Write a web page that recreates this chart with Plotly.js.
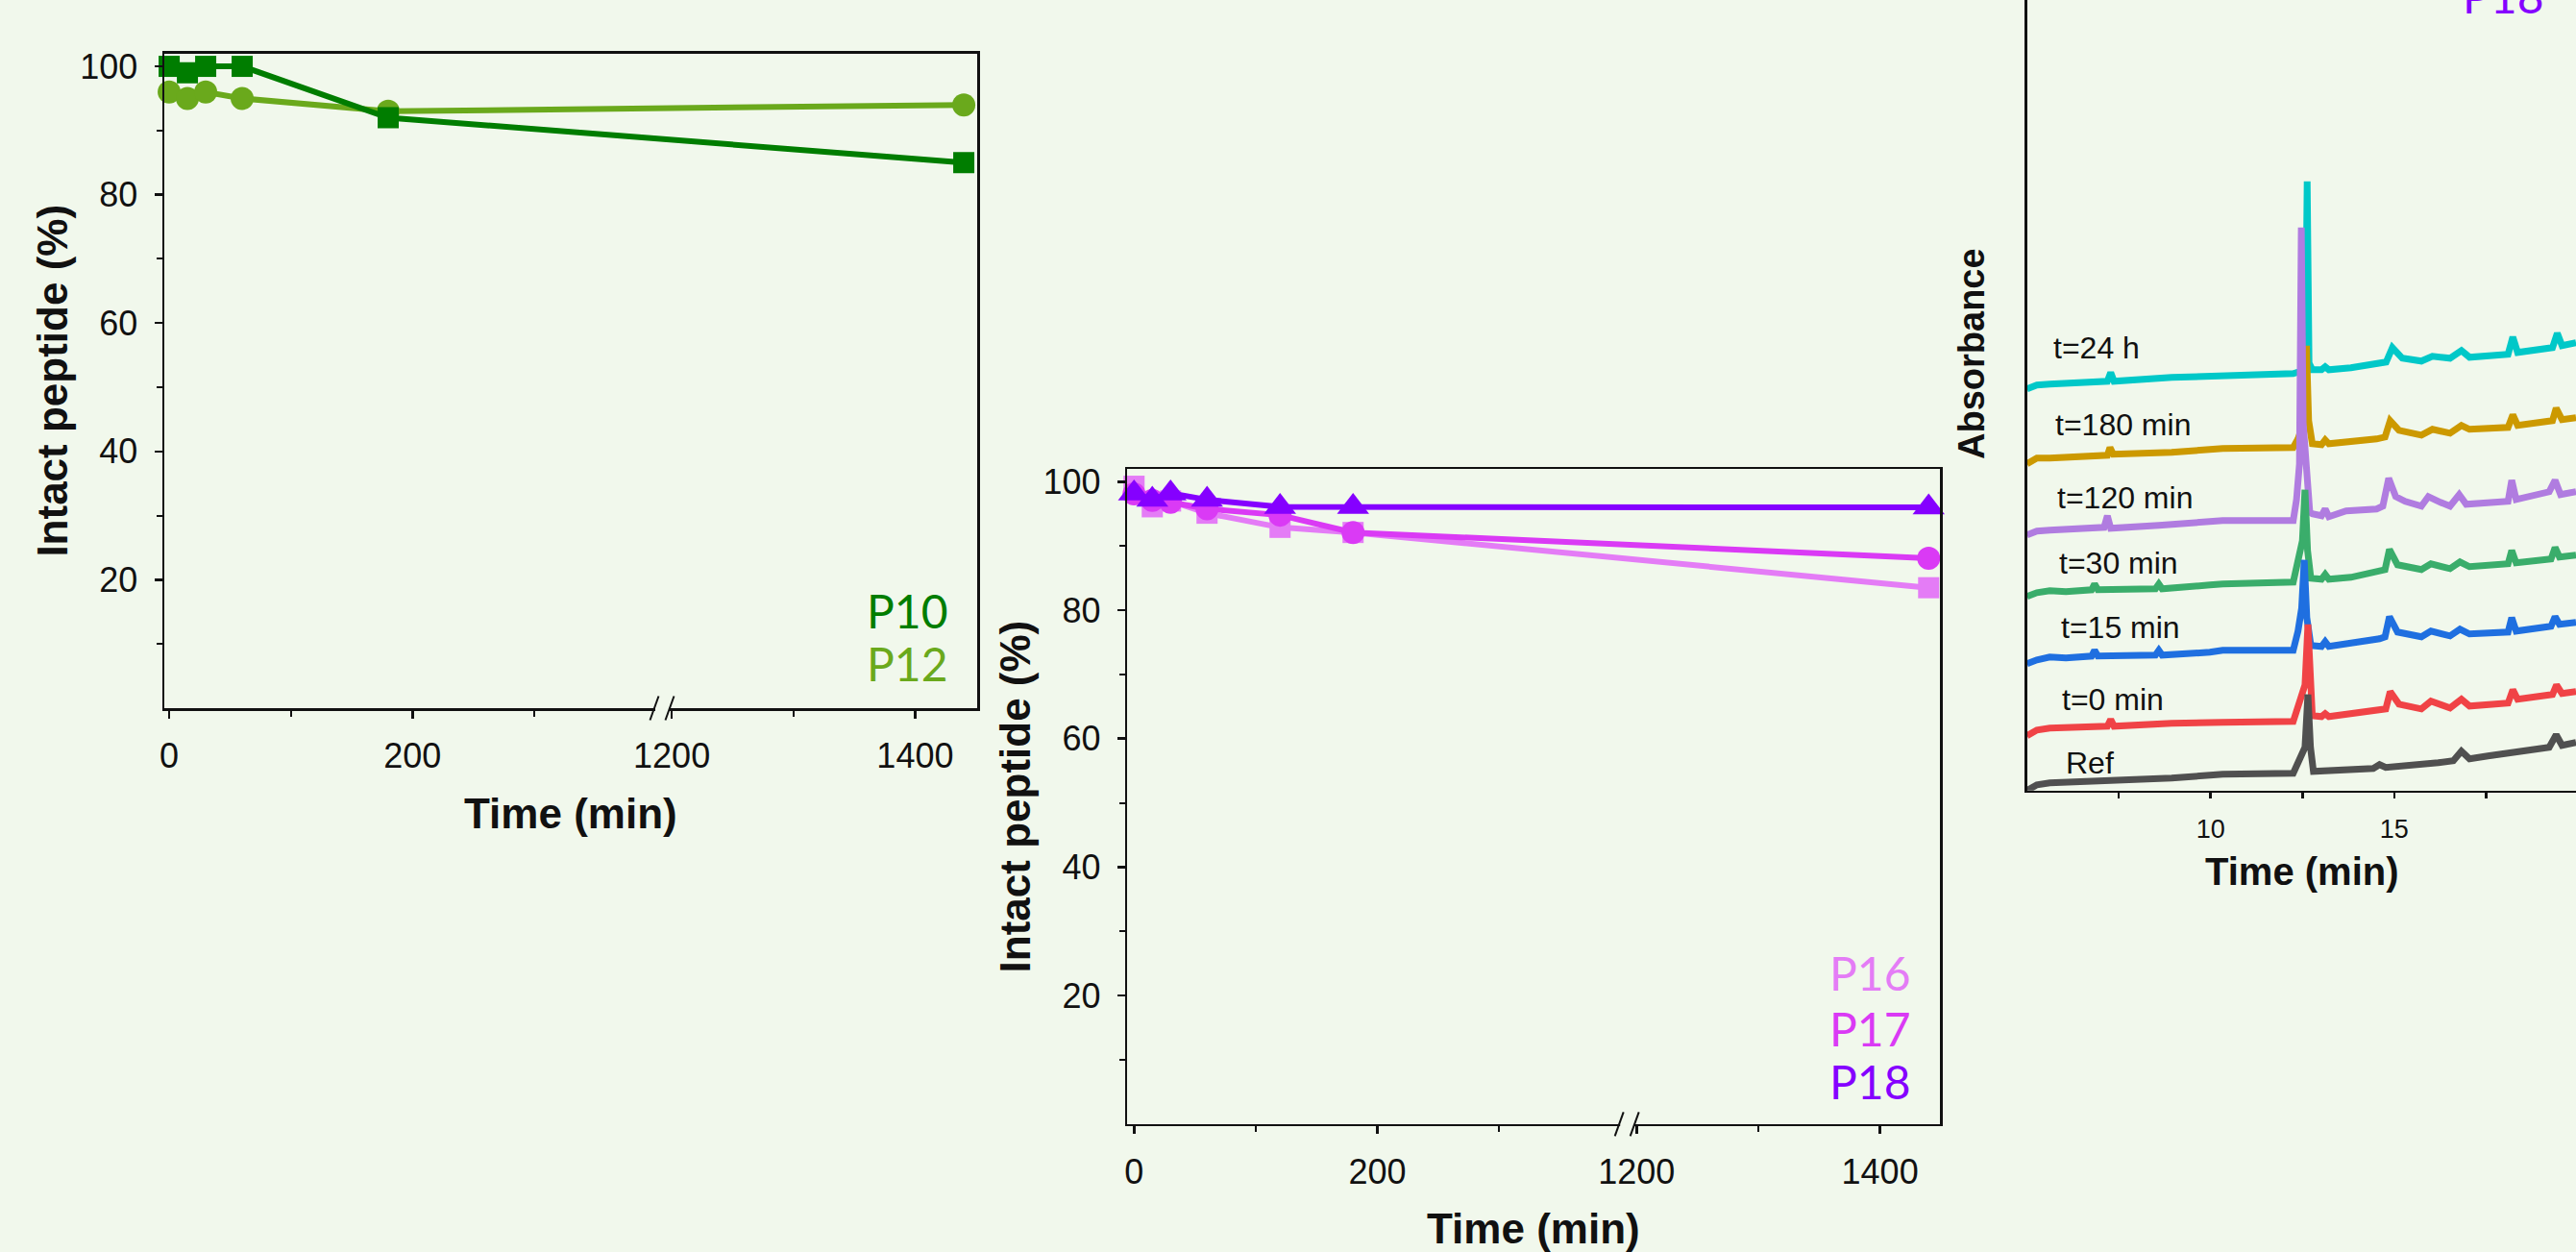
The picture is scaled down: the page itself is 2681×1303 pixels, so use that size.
<!DOCTYPE html>
<html>
<head>
<meta charset="utf-8">
<script src="https://cdn.plot.ly/plotly-3.0.1.min.js"></script>
<style>
html, body { margin: 0; padding: 0; background: #f1f8ec; }
#chart { width: 2681px; height: 1303px; }
</style>
</head>
<body>
<div id="chart"></div>
<script>
// ---------------- DATA ----------------
// Panel A: intact peptide (%) vs time (min)
const timesA = [0, 15, 30, 60, 180, 1440];
const p10 = [100, 99, 100, 100, 92, 85];
const p12 = [96, 95, 96, 95, 93, 94];

// Panel B
const timesB = [0, 15, 30, 60, 120, 180, 1440];
const p16 = [99.3, 96.1, 97.0, 95.1, 92.9, 92.1, 83.5];
const p17 = [98.1, 97.1, 96.8, 95.8, 94.8, 92.1, 88.1];
const p18 = [98.2, 97.2, 98.2, 97.2, 96.1, 96.1, 96.0];

// Tick labels
const xTickTimes = [0, 200, 1200, 1400];
const xTickText = ['0', '200', '1200', '1400'];
const xMinorTimes = [100, 300, 1300];
const yTickVals = [20, 40, 60, 80, 100];
const yMinorVals = [10, 30, 50, 70, 90];
const chromTickVals = [7.5, 10, 12.5, 15, 17.5];
const chromTickText = ['', '10', '', '15', ''];

// Panel C: stacked chromatograms (absorbance, arbitrary stacked units) vs retention time (min)
const tCyan = [5.0, 5.27, 5.62, 7.19, 7.28, 7.37, 8.94, 9.98, 10.33, 12.25, 12.42, 12.58, 12.63, 12.68, 12.77, 13.02, 13.12, 13.22, 13.82, 14.52, 14.78, 14.95, 15.22, 15.74, 16.04, 16.52, 16.83, 17.05, 18.10, 18.23, 18.36, 19.31, 19.44, 19.57, 19.95];
const aCyan = [41.8, 42.2, 42.3, 42.6, 43.5, 42.6, 43.0, 43.1, 43.3, 43.4, 43.6, 44.5, 63.4, 44.5, 43.8, 43.8, 44.1, 43.8, 44.0, 44.4, 44.6, 46.1, 45.0, 44.7, 45.2, 45.0, 45.8, 45.1, 45.4, 47.2, 45.6, 46.1, 47.6, 46.3, 46.6];

const tGold = [5.0, 5.27, 5.62, 7.19, 7.26, 7.35, 8.94, 9.98, 10.33, 12.25, 12.38, 12.55, 12.61, 12.67, 12.77, 13.02, 13.12, 13.22, 13.82, 14.52, 14.75, 14.89, 15.13, 15.74, 16.04, 16.52, 16.83, 17.05, 18.10, 18.23, 18.36, 19.31, 19.41, 19.57, 19.95];
const aGold = [34.0, 34.6, 34.6, 34.9, 35.7, 35.0, 35.2, 35.5, 35.6, 35.7, 36.6, 38.5, 46.3, 38.5, 36.1, 36.0, 36.5, 36.1, 36.3, 36.6, 36.8, 38.5, 37.5, 37.0, 37.6, 37.2, 38.0, 37.6, 37.8, 39.1, 38.0, 38.5, 39.8, 38.6, 38.8];

const tLav = [5.0, 5.27, 5.62, 7.10, 7.19, 7.28, 8.59, 9.98, 10.33, 12.25, 12.34, 12.42, 12.47, 12.52, 12.60, 12.70, 12.77, 13.02, 13.12, 13.22, 13.69, 14.52, 14.69, 14.85, 15.04, 15.30, 15.74, 15.93, 16.26, 16.52, 16.77, 16.96, 18.10, 18.20, 18.32, 19.22, 19.38, 19.53, 19.95];
const aLav = [26.6, 27.0, 27.1, 27.4, 28.6, 27.3, 27.6, 28.0, 28.1, 28.1, 30.3, 34.0, 58.6, 38.3, 33.0, 29.0, 28.8, 28.6, 29.3, 28.5, 29.1, 29.3, 29.6, 32.5, 30.6, 30.1, 29.6, 30.6, 30.0, 29.6, 30.8, 29.8, 30.1, 32.3, 30.3, 31.1, 32.3, 30.8, 31.1];

const tGreen = [5.0, 5.27, 5.62, 6.06, 6.76, 6.84, 6.93, 8.50, 8.59, 8.68, 9.98, 10.33, 12.25, 12.38, 12.50, 12.57, 12.64, 12.73, 13.02, 13.12, 13.22, 13.82, 14.60, 14.75, 14.87, 15.09, 15.74, 16.00, 16.52, 16.79, 17.05, 18.10, 18.20, 18.32, 19.27, 19.38, 19.50, 19.95];
const aGreen = [20.2, 20.6, 20.8, 20.7, 20.9, 21.5, 20.9, 21.0, 21.5, 21.0, 21.4, 21.5, 21.7, 23.6, 26.0, 31.3, 25.0, 22.1, 22.0, 22.5, 22.0, 22.2, 22.8, 23.0, 25.1, 23.5, 23.0, 23.6, 23.1, 23.8, 23.3, 23.6, 25.0, 23.7, 24.1, 25.3, 24.3, 24.5];

const tBlue = [5.0, 5.27, 5.62, 6.06, 6.76, 6.84, 6.93, 8.50, 8.59, 8.68, 9.98, 10.33, 12.25, 12.38, 12.48, 12.55, 12.62, 12.73, 13.02, 13.12, 13.22, 13.82, 14.60, 14.75, 14.87, 15.09, 15.74, 16.00, 16.52, 16.79, 17.05, 18.10, 18.20, 18.32, 19.27, 19.38, 19.50, 19.95];
const aBlue = [13.2, 13.6, 13.9, 13.8, 14.0, 14.6, 14.0, 14.1, 14.6, 14.1, 14.4, 14.6, 14.6, 16.6, 19.0, 24.0, 18.0, 15.1, 15.0, 15.5, 15.0, 15.3, 15.8, 16.0, 18.1, 16.5, 16.0, 16.6, 16.1, 16.8, 16.3, 16.5, 18.0, 16.6, 17.1, 18.1, 17.3, 17.5];

const tRed = [5.0, 5.27, 5.62, 7.19, 7.28, 7.37, 8.94, 9.98, 10.33, 12.25, 12.42, 12.57, 12.65, 12.72, 12.77, 13.02, 13.12, 13.22, 13.82, 14.60, 14.77, 14.89, 15.13, 15.74, 16.00, 16.52, 16.83, 17.05, 18.10, 18.23, 18.36, 19.31, 19.42, 19.57, 19.95];
const aRed = [5.7, 6.3, 6.5, 6.7, 7.4, 6.7, 7.0, 7.0, 7.1, 7.2, 9.0, 11.0, 17.3, 10.5, 7.8, 7.7, 8.0, 7.7, 8.0, 8.3, 8.5, 10.3, 9.0, 8.5, 9.3, 8.6, 9.5, 8.8, 9.1, 10.5, 9.5, 10.0, 11.0, 10.1, 10.3];

const tRef = [5.0, 5.27, 5.62, 7.37, 8.94, 9.98, 10.33, 12.25, 12.42, 12.57, 12.65, 12.72, 12.80, 13.82, 14.43, 14.60, 14.77, 16.20, 16.61, 16.83, 17.05, 17.55, 18.23, 19.22, 19.41, 19.57, 19.95];
const aRef = [0.0, 0.6, 0.8, 1.0, 1.3, 1.6, 1.7, 1.8, 3.1, 4.5, 10.0, 4.5, 2.0, 2.1, 2.3, 2.7, 2.4, 2.9, 3.1, 4.1, 3.3, 3.6, 4.0, 4.5, 5.8, 4.7, 5.0];

const chromLabels = ['t=24 h', 't=180 min', 't=120 min', 't=30 min', 't=15 min', 't=0 min', 'Ref'];

// ---------------- STYLE / LAYOUT HELPERS ----------------
const W = 2681, H = 1303;
const BG = '#f1f8ec';
const INK = '#111111';
const FONT = 'Liberation Sans, Arial, Helvetica, sans-serif';
const px = x => x / W;
const py = y => 1 - y / H;

// broken time axis: the 400..1190 min gap is cut out
const BREAK_OFFSET = 787;
const brk = t => (t > 800 ? t - BREAK_OFFSET : t);

const cP10 = '#007d00', cP12 = '#6aa91c';
const cP16 = '#e47cf6', cP17 = '#da3af5', cP18 = '#8500ff';
const chromColors = ['#00c8c8', '#cc9900', '#b07ce0', '#3aad6b', '#1f6fe0', '#f04346', '#505050'];

function lineTrace(t, y, color, symbol, size, xa, ya, name) {
  return {
    x: t.map(brk), y: y, type: 'scatter', mode: 'lines+markers', name: name,
    xaxis: xa, yaxis: ya, cliponaxis: false,
    line: { color: color, width: 6 },
    marker: { color: color, symbol: symbol, size: size }
  };
}

const traces = [
  lineTrace(timesA, p12, cP12, 'circle', 24, 'x', 'y', 'P12'),
  lineTrace(timesA, p10, cP10, 'square', 22, 'x', 'y', 'P10'),
  lineTrace(timesB, p16, cP16, 'square', 22, 'x2', 'y2', 'P16'),
  lineTrace(timesB, p17, cP17, 'circle', 24, 'x2', 'y2', 'P17'),
  lineTrace(timesB, p18, cP18, 'triangle-up', 29, 'x2', 'y2', 'P18')
];

const chromT = [tCyan, tGold, tLav, tGreen, tBlue, tRed, tRef];
const chromA = [aCyan, aGold, aLav, aGreen, aBlue, aRed, aRef];
chromT.forEach((t, i) => {
  traces.push({
    x: t, y: chromA[i], type: 'scatter', mode: 'lines', name: chromLabels[i],
    xaxis: 'x3', yaxis: 'y3',
    line: { color: chromColors[i], width: 7, shape: 'linear' }
  });
});

const tickFontBig = { family: FONT, size: 36, color: INK };
const baseAxis = {
  showline: true, linecolor: INK, linewidth: 2.5, showgrid: false, zeroline: false,
  ticks: 'outside', tickcolor: INK, tickwidth: 2.5, ticklen: 8, mirror: true,
  tickfont: tickFontBig
};

function timeAxis(domain, range) {
  return Object.assign({}, baseAxis, {
    domain: domain, range: range, tickmode: 'array',
    tickvals: xTickTimes.map(brk), ticktext: xTickText,
    minor: { tickmode: 'array', tickvals: xMinorTimes.map(brk), ticks: 'outside', ticklen: 6, tickwidth: 2, tickcolor: INK },
    ticklabelstandoff: 8
  });
}
function pctAxis(domain, anchor) {
  return Object.assign({}, baseAxis, {
    domain: domain, range: [0, 102], anchor: anchor, tickmode: 'array',
    tickvals: yTickVals,
    minor: { tickmode: 'array', tickvals: yMinorVals, ticks: 'outside', ticklen: 6, tickwidth: 2, tickcolor: INK },
    ticklabelstandoff: 10
  });
}

const dA = { x0: 171, x1: 1017, y0: 737, y1: 55.7, r: [-4, 664] };
const dB = { x0: 1173.3, x1: 2019.3, y0: 1169.8, y1: 488, r: [-5.5, 662.5] };

const layout = {
  width: W, height: H,
  margin: { l: 0, r: 0, t: 0, b: 0, pad: 0 },
  paper_bgcolor: BG, plot_bgcolor: BG,
  showlegend: false,
  font: { family: FONT, color: INK },
  xaxis: Object.assign(timeAxis([px(dA.x0), px(dA.x1)], dA.r), { anchor: 'y' }),
  yaxis: pctAxis([py(dA.y0), py(dA.y1)], 'x'),
  xaxis2: Object.assign(timeAxis([px(dB.x0), px(dB.x1)], dB.r), { anchor: 'y2' }),
  yaxis2: pctAxis([py(dB.y0), py(dB.y1)], 'x2'),
  xaxis3: {
    domain: [px(2109.6), 1], range: [5, 19.95], anchor: 'y3',
    showline: true, linecolor: INK, linewidth: 2.5, showgrid: false, zeroline: false,
    ticks: 'outside', ticklen: 6, tickwidth: 2.5, tickcolor: INK,
    tickmode: 'array', tickvals: chromTickVals, ticktext: chromTickText,
    tickfont: { family: FONT, size: 27, color: INK }, ticklabelstandoff: 8
  },
  yaxis3: {
    domain: [py(822.8), 1], range: [0, 82.28], anchor: 'x3',
    showline: true, linecolor: INK, linewidth: 2.5, showgrid: false, zeroline: false,
    ticks: '', showticklabels: false
  },
  annotations: [],
  shapes: []
};

function ann(text, x, y, opts) {
  layout.annotations.push(Object.assign({
    text: text, xref: 'paper', yref: 'paper', x: px(x), y: py(y),
    showarrow: false, xanchor: 'center', yanchor: 'middle',
    font: { family: FONT, size: 44, color: INK }
  }, opts || {}));
}

// axis titles
const titleFont = { family: FONT, size: 44, color: INK };
ann('<b>Intact peptide (%)</b>', 53.6, 396, { textangle: -90, font: titleFont });
ann('<b>Time (min)</b>', 594, 846, { font: titleFont });
ann('<b>Intact peptide (%)</b>', 1056, 829.4, { textangle: -90, font: titleFont });
ann('<b>Time (min)</b>', 1596, 1278, { font: titleFont });
ann('<b>Time (min)</b>', 2395.5, 907, { font: { family: FONT, size: 40, color: INK } });
ann('<b>Absorbance</b>', 2052, 368, { textangle: -90, font: { family: FONT, size: 38, color: INK } });

// series labels
const labFont = c => ({ family: 'Lato, ' + FONT, size: 48, color: c });
ann('P10', 989, 635, { xanchor: 'right', font: labFont(cP10) });
ann('P12', 989, 690.4, { xanchor: 'right', font: labFont(cP12) });
ann('P16', 1990.5, 1012.9, { xanchor: 'right', font: labFont(cP16) });
ann('P17', 1990.5, 1070, { xanchor: 'right', font: labFont(cP17) });
ann('P18', 1990.5, 1125.4, { xanchor: 'right', font: labFont(cP18) });
ann('P18', 2650, -4.6, { xanchor: 'right', font: labFont(cP18) });

// chromatogram labels
const chromLabelPos = [[2135, 373.3], [2136.7, 452.7], [2139.3, 529.3], [2140.7, 596.7], [2142.7, 664.3], [2144.3, 739.3], [2147.7, 805]];
chromLabels.forEach((s, i) => {
  const p = chromLabelPos[i];
  ann(s, p[0], p[1] - 11, { xanchor: 'left', font: { family: FONT, size: 32, color: INK } });
});

// axis-break marks "//"
function breakMark(d) {
  const breakVal = 405;
  const xc = d.x0 + (breakVal - d.r[0]) / (d.r[1] - d.r[0]) * (d.x1 - d.x0);
  const yc = d.y0;
  layout.shapes.push({ type: 'rect', xref: 'paper', yref: 'paper', x0: px(xc - 7), x1: px(xc + 7), y0: py(yc + 4), y1: py(yc - 4), fillcolor: BG, line: { width: 0 }, layer: 'above' });
  [-8, 8].forEach(dx => {
    layout.shapes.push({ type: 'line', xref: 'paper', yref: 'paper', x0: px(xc + dx - 4.5), y0: py(yc + 12.5), x1: px(xc + dx + 4.5), y1: py(yc - 12.5), line: { color: INK, width: 2 }, layer: 'above' });
  });
}
breakMark(dA);
breakMark(dB);

Plotly.newPlot('chart', traces, layout, { staticPlot: true, displayModeBar: false });
</script>
</body>
</html>
